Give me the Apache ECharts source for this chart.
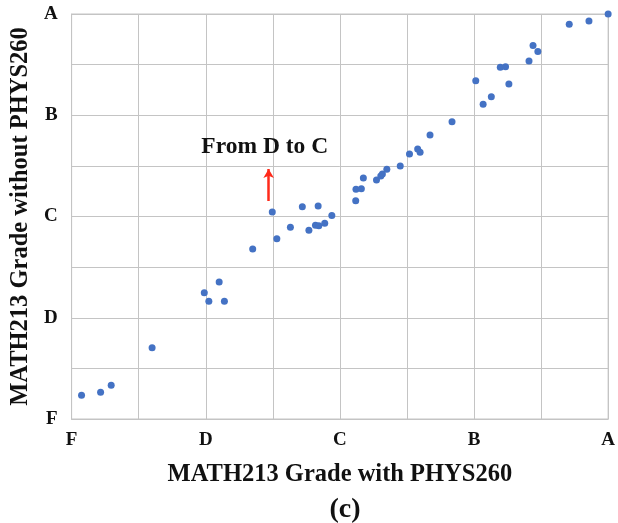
<!DOCTYPE html>
<html>
<head>
<meta charset="utf-8">
<script src="https://cdn.jsdelivr.net/npm/echarts@6/dist/echarts.min.js"></script>
<style>html,body{margin:0;padding:0;background:#fff;}#c{width:618px;height:523px;}</style>
</head>
<body>
<div id="c"></div>
<script>
// Grade scale: F=0, D=1, C=2, B=3, A=4
const gradeLabels = {0: 'F', 1: 'D', 2: 'C', 3: 'B', 4: 'A'};
const withPHYS260 = [
  0.074, 0.216, 0.295, 0.60,
  0.989, 1.023, 1.100, 1.139,
  1.35, 1.496, 1.53, 1.631, 1.72, 1.769, 1.818, 1.843, 1.838, 1.887, 1.94,
  2.118, 2.12, 2.16, 2.175, 2.273, 2.305, 2.317, 2.35, 2.45, 2.519, 2.58, 2.598,
  2.672, 2.836, 3.013, 3.068, 3.129, 3.196, 3.235, 3.26, 3.41, 3.44, 3.476,
  3.71, 3.857, 4.0
];
const withoutPHYS260 = [
  0.234, 0.264, 0.333, 0.704,
  1.247, 1.162, 1.353, 1.162,
  1.68, 2.044, 1.78, 1.893, 2.097, 1.863, 1.913, 1.909, 2.104, 1.933, 2.01,
  2.156, 2.268, 2.275, 2.38, 2.36, 2.40, 2.42, 2.466, 2.499, 2.617, 2.667, 2.634,
  2.805, 2.937, 3.341, 3.108, 3.183, 3.474, 3.48, 3.309, 3.536, 3.69, 3.63,
  3.90, 3.93, 4.0
];
const annotationText = 'From D to C';
const xTitle = 'MATH213 Grade with PHYS260';
const yTitle = 'MATH213 Grade without PHYS260';
const panelLabel = '(c)';

const points = withPHYS260.map((x, i) => [x, withoutPHYS260[i]]);
const font = '"Liberation Serif", "Times New Roman", serif';
const gridColor = '#c4c4c4';

function axis(extra, margin) {
  return Object.assign({
    type: 'value', min: 0, max: 4, interval: 0.5,
    axisLine: {show: true, lineStyle: {color: gridColor, width: 1}},
    axisTick: {show: false},
    splitLine: {show: true, lineStyle: {color: gridColor, width: 1}},
    axisLabel: {
      formatter: v => gradeLabels[v] !== undefined ? gradeLabels[v] : '',
      fontFamily: font, fontWeight: 'bold', fontSize: 19, color: '#111', margin: margin
    },
    nameLocation: 'middle',
    nameTextStyle: {fontFamily: font, fontWeight: 'bold', fontSize: 24.5, color: '#111'}
  }, extra);
}

const chart = echarts.init(document.getElementById('c'), null, {renderer: 'canvas'});
chart.setOption({
  backgroundColor: '#fff',
  animation: false,
  grid: {left: 71, right: 5, top: 14, bottom: 104, show: true, borderColor: gridColor, borderWidth: 1},
  xAxis: axis({name: xTitle, nameGap: 43}, 12),
  yAxis: axis({name: yTitle, nameGap: 34}, 14),
  graphic: [{
    type: 'text', x: 345, y: 510,
    style: {text: panelLabel, font: 'bold 28px ' + font, fill: '#111', align: 'center', verticalAlign: 'middle'}
  }],
  series: [{
    type: 'scatter',
    data: points,
    symbolSize: 7,
    itemStyle: {color: '#4472C4', opacity: 1},
    markLine: {
      silent: true,
      symbol: ['none', 'arrow'],
      symbolSize: [8, 9],
      label: {show: false},
      lineStyle: {color: '#FF2A1A', width: 2.5, type: 'solid'},
      data: [[{coord: [1.469, 2.153]}, {coord: [1.469, 2.469]}]]
    },
    markPoint: {
      silent: true,
      symbol: 'circle', symbolSize: 0,
      label: {show: true, position: 'inside', formatter: annotationText,
        fontFamily: font, fontWeight: 'bold', fontSize: 23.5, color: '#111'},
      data: [{coord: [1.44, 2.686]}]
    }
  }]
});
</script>
</body>
</html>
